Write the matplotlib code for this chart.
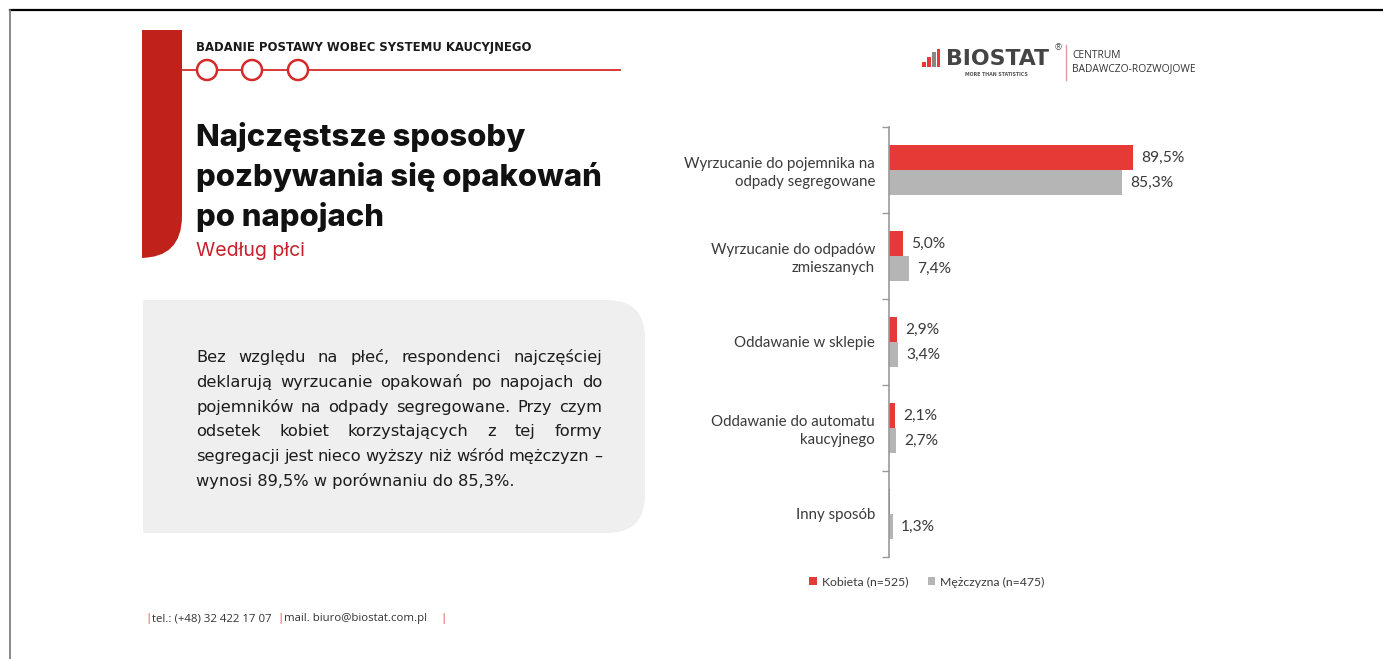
import matplotlib

matplotlib.use("Agg")
import matplotlib.pyplot as plt
from matplotlib.patches import Rectangle, Ellipse, PathPatch
from matplotlib.path import Path
from matplotlib.lines import Line2D

# survey results, % of respondents
categories = [
    "Wyrzucanie do pojemnika na\nodpady segregowane",
    "Wyrzucanie do odpadów\nzmieszanych",
    "Oddawanie w sklepie",
    "Oddawanie do automatu\nkaucyjnego",
    "Inny sposób",
]
kobieta = [89.5, 5.0, 2.9, 2.1, 0.4]
mezczyzna = [85.3, 7.4, 3.4, 2.7, 1.3]
kobieta_labels = ["89,5%", "5,0%", "2,9%", "2,1%", ""]
mezczyzna_labels = ["85,3%", "7,4%", "3,4%", "2,7%", "1,3%"]
legend_labels = ["Kobieta (n=525)", "Mężczyzna (n=475)"]

summary_lines = [
    "Bez względu na płeć, respondenci najczęściej",
    "deklarują wyrzucanie opakowań po napojach do",
    "pojemników na odpady segregowane. Przy czym",
    "odsetek kobiet korzystających z tej formy",
    "segregacji jest nieco wyższy niż wśród mężczyzn –",
    "wynosi 89,5% w porównaniu do 85,3%.",
]

RED = "#e53a35"
DARK_RED = "#c0211b"
GREY = "#b5b5b5"
TEXT = "#3a3a3a"

W, H = 1383, 659
fig = plt.figure(figsize=(W / 100, H / 100), dpi=100)
fig.patch.set_facecolor("white")


def fx(x):
    return x / W


def fy(y):
    return 1 - y / H


def pt(px):
    return px * 0.72


# page frame
fig.add_artist(Line2D([fx(10), fx(W)], [fy(10), fy(10)], color="black", lw=1.6))
fig.add_artist(Line2D([fx(10), fx(10)], [fy(10), fy(H)], color="#777777", lw=1.2))

# red side tab with rounded bottom-right corner
x0, x1, y0, y1, r = 142, 182, 30, 258, 42
verts = [
    (fx(x0), fy(y0)), (fx(x1), fy(y0)), (fx(x1), fy(y1 - r)),
    (fx(x1), fy(y1)), (fx(x1 - r), fy(y1)), (fx(x0), fy(y1)), (fx(x0), fy(y0)),
]
codes = [Path.MOVETO, Path.LINETO, Path.LINETO, Path.CURVE3, Path.CURVE3, Path.LINETO, Path.CLOSEPOLY]
fig.add_artist(PathPatch(Path(verts, codes), transform=fig.transFigure, facecolor=DARK_RED, edgecolor="none"))

# header
fig.text(fx(196), fy(48), "BADANIE POSTAWY WOBEC SYSTEMU KAUCYJNEGO", fontsize=pt(11.6),
         fontweight="bold", family="DejaVu Sans", color="#1a1a1a", va="center", ha="left")
fig.add_artist(Line2D([fx(183), fx(620)], [fy(70), fy(70)], color="#d42a2a", lw=1.3))
for cx in (207, 252, 298):
    fig.add_artist(Ellipse((fx(cx), fy(70)), 20 / W, 20 / H, transform=fig.transFigure,
                           facecolor="white", edgecolor="#d42a2a", lw=1.8, zorder=3))

# title
title_lines = ["Najczęstsze sposoby", "pozbywania się opakowań", "po napojach"]
for i, line in enumerate(title_lines):
    fig.text(fx(196), fy(137 + i * 40), line, fontsize=pt(31), fontweight=800,
             family="Inter", color="#111111", va="center", ha="left")
fig.text(fx(196), fy(251), "Według płci", fontsize=pt(19.5), family="Inter", color="#c8202a",
         va="center", ha="left")

# grey summary box, square left edge, rounded on the right
bx0, bx1, by0, by1, br = 143, 645, 300, 533, 38
verts = [
    (fx(bx0), fy(by0)), (fx(bx1 - br), fy(by0)), (fx(bx1), fy(by0)), (fx(bx1), fy(by0 + br)),
    (fx(bx1), fy(by1 - br)), (fx(bx1), fy(by1)), (fx(bx1 - br), fy(by1)),
    (fx(bx0), fy(by1)), (fx(bx0), fy(by0)),
]
codes = [Path.MOVETO, Path.LINETO, Path.CURVE3, Path.CURVE3, Path.LINETO, Path.CURVE3, Path.CURVE3,
         Path.LINETO, Path.CLOSEPOLY]
fig.add_artist(PathPatch(Path(verts, codes), transform=fig.transFigure, facecolor="#efefef",
                         edgecolor="none"))

# justified paragraph, last line left as is
renderer = fig.canvas.get_renderer()
tx0, tx1 = 196, 602
body_kw = dict(fontsize=pt(16.2), family="DejaVu Sans", color="#1c1c1c", va="baseline", ha="left")
for i, line in enumerate(summary_lines):
    y = fy(362 + i * 24.8)
    if i == len(summary_lines) - 1:
        fig.text(fx(tx0), y, line, **body_kw)
        continue
    words = line.split(" ")
    widths = []
    for w in words:
        t = fig.text(0, 0, w, **body_kw)
        widths.append(t.get_window_extent(renderer).width)
        t.remove()
    gap = (tx1 - tx0 - sum(widths)) / (len(words) - 1)
    x = tx0
    for w, wd in zip(words, widths):
        fig.text(fx(x), y, w, **body_kw)
        x += wd + gap

# logo
bars = [(922, 62, 4, RED), (927, 57, 4, RED), (932, 52, 4, "#888888"), (937, 49, 3, RED)]
for bxp, top, bw, c in bars:
    fig.add_artist(Rectangle((fx(bxp), fy(67)), bw / W, (67 - top) / H, transform=fig.transFigure,
                             facecolor=c, edgecolor="none"))
fig.text(fx(946), fy(59), "BIOSTAT", fontsize=pt(22), fontweight="bold", family="DejaVu Sans",
         color="#444444", va="center", ha="left")
fig.text(fx(1054), fy(48), "®", fontsize=pt(9), color="#555555", va="center", ha="left")
fig.text(fx(996), fy(74), "MORE THAN STATISTICS", fontsize=pt(4.8), fontweight="bold",
         color="#555555", va="center", ha="center")
fig.add_artist(Line2D([fx(1066), fx(1066)], [fy(45), fy(80)], color="#e89a9a", lw=1))
fig.text(fx(1072), fy(56), "CENTRUM", fontsize=pt(10.3), family="Open Sans", color="#333333",
         va="center", ha="left")
fig.text(fx(1072), fy(69), "BADAWCZO-ROZWOJOWE", fontsize=pt(10.3), family="Open Sans",
         color="#333333", va="center", ha="left")

# footer
footer = [(145, "|", RED), (152, "tel.: (+48) 32 422 17 07", "#333333"), (277, "|", RED),
          (284, "mail. biuro@biostat.com.pl", "#333333"), (440, "|", RED)]
for xp, s, c in footer:
    fig.text(fx(xp), fy(619), s, fontsize=pt(11.4), family="Open Sans", color=c,
             va="center", ha="left")

# bar chart
ax = fig.add_axes([fx(889), fy(557), 273 / W, 430 / H])
ypos = list(range(len(categories)))
off, h = 0.145, 0.28
b1 = ax.barh([y - off for y in ypos], kobieta, height=h, color=RED, label=legend_labels[0])
b2 = ax.barh([y + off for y in ypos], mezczyzna, height=h, color=GREY, label=legend_labels[1])
ax.bar_label(b1, labels=kobieta_labels, padding=6, fontsize=pt(15.5), family="Lato", color=TEXT)
ax.bar_label(b2, labels=mezczyzna_labels, padding=6, fontsize=pt(15.5), family="Lato", color=TEXT)
ax.set_xlim(0, 100)
ax.set_ylim(4.5, -0.5)
ax.set_yticks(ypos)
ax.set_yticklabels(categories, fontsize=pt(15), family="Lato", color=TEXT, linespacing=1.3)
ax.tick_params(axis="y", which="major", length=0, pad=10)
ax.set_yticks([y - 0.5 for y in range(len(categories) + 1)], minor=True)
ax.tick_params(axis="y", which="minor", length=5, color="#999999", width=1)
ax.set_xticks([])
for s in ("top", "right", "bottom"):
    ax.spines[s].set_visible(False)
ax.spines["left"].set_color("#999999")
ax.spines["left"].set_linewidth(1.2)
ax.patch.set_alpha(0)

fig.legend(handles=[b1, b2], labels=legend_labels, loc="center", bbox_to_anchor=(fx(927), fy(582)),
           ncol=2, frameon=False, handlelength=0.6, handleheight=0.6, columnspacing=1.6,
           handletextpad=0.4, prop={"family": "Lato", "size": pt(12.3)}, labelcolor=TEXT)

fig.savefig("out.png", dpi=100)
